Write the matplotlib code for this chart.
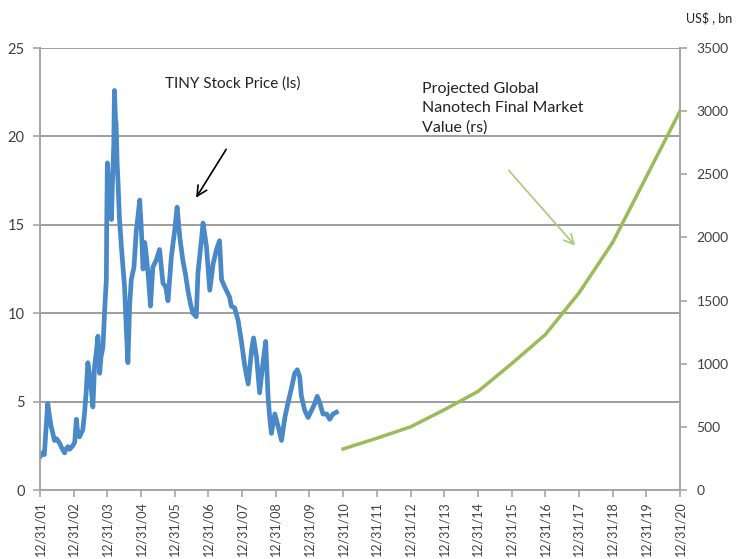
import matplotlib
matplotlib.use("Agg")
import matplotlib.pyplot as plt

# ---- data ----
stock_t = [2002.01, 2002.07, 2002.13, 2002.18, 2002.23, 2002.28, 2002.33, 2002.37, 2002.43, 2002.49,
           2002.58, 2002.64, 2002.73, 2002.77, 2002.83, 2002.88, 2002.97, 2003.03, 2003.08, 2003.11,
           2003.17, 2003.27, 2003.32, 2003.37, 2003.42, 2003.50, 2003.57, 2003.62, 2003.66, 2003.72,
           2003.77, 2003.81, 2003.87, 2003.92, 2003.97, 2003.98, 2004.00, 2004.04, 2004.07, 2004.12,
           2004.16, 2004.19, 2004.21, 2004.24, 2004.26, 2004.29, 2004.31, 2004.36, 2004.43, 2004.51,
           2004.56, 2004.61, 2004.66, 2004.71, 2004.79, 2004.86, 2004.91, 2004.96, 2005.01, 2005.06,
           2005.11, 2005.16, 2005.22, 2005.28, 2005.35, 2005.45, 2005.55, 2005.65, 2005.73, 2005.80,
           2005.90, 2006.00, 2006.07, 2006.15, 2006.24, 2006.32, 2006.39, 2006.47, 2006.54, 2006.64,
           2006.69, 2006.79, 2006.84, 2006.94, 2007.04, 2007.14, 2007.24, 2007.33, 2007.39, 2007.48,
           2007.58, 2007.63, 2007.68, 2007.78, 2007.88, 2007.98, 2008.08, 2008.18, 2008.28, 2008.34,
           2008.43, 2008.52, 2008.62, 2008.70, 2008.77, 2008.82, 2008.87, 2008.97, 2009.07, 2009.17,
           2009.27, 2009.36, 2009.47, 2009.56, 2009.64, 2009.71, 2009.76, 2009.86, 2009.96, 2010.06,
           2010.16, 2010.23, 2010.31, 2010.40, 2010.51, 2010.60, 2010.70, 2010.80]
stock_price = [1.9, 2.1, 2.0, 3.5, 4.9, 4.2, 3.6, 3.3, 2.8, 2.9,
               2.65, 2.4, 2.1, 2.3, 2.45, 2.3, 2.5, 2.7, 4.0, 3.4,
               3.0, 3.4, 4.3, 5.5, 7.2, 6.2, 4.7, 7.0, 7.6, 8.7,
               6.6, 7.5, 8.1, 10.2, 11.9, 15.0, 18.5, 17.2, 17.7, 15.3,
               17.9, 19.5, 22.6, 21.0, 20.7, 18.5, 17.7, 15.3, 13.4, 11.5,
               9.2, 7.2, 10.4, 11.9, 12.6, 14.7, 15.5, 16.4, 14.7, 12.5,
               14.0, 13.2, 12.0, 10.4, 12.6, 13.0, 13.6, 11.7, 11.5, 10.7,
               13.2, 14.7, 16.0, 14.3, 13.0, 12.2, 11.3, 10.5, 10.0, 9.8,
               12.3, 14.1, 15.1, 13.8, 11.3, 12.8, 13.6, 14.1, 11.9, 11.5,
               11.1, 10.9, 10.4, 10.3, 9.6, 8.4, 7.0, 6.0, 7.9, 8.6,
               7.5, 5.5, 7.2, 8.4, 5.3, 4.1, 3.2, 4.3, 3.6, 2.8,
               4.1, 4.9, 5.8, 6.6, 6.8, 6.4, 5.3, 4.5, 4.1, 4.5,
               4.9, 5.3, 4.9, 4.3, 4.3, 4.0, 4.3, 4.4]

market_t = [2011, 2012, 2013, 2014, 2015, 2016, 2017, 2018, 2019, 2020, 2021]
market_value = [325, 410, 500, 635, 780, 1000, 1230, 1560, 1960, 2480, 3000]

tick_pos = list(range(2002, 2022))
tick_labels = ["12/31/%02d" % (y - 2001) for y in tick_pos]

# ---- style ----
plt.rcParams['font.family'] = ['Lato', 'DejaVu Sans']
blue = '#4A89C8'
green = '#9BBB59'
grid_c = '#8C8C8C'
txt_c = '#404040'

fig = plt.figure(figsize=(7.36, 5.59), dpi=100)
ax = fig.add_axes([40/736, 1-490/559, 640/736, 442/559])
ax2 = ax.twinx()

ax.plot(stock_t, stock_price, color=blue, lw=3.4, solid_joinstyle='round', zorder=3)
ax2.plot(market_t, market_value, color=green, lw=2.5, zorder=3)

ax.set_xlim(2002, 2021)
ax.set_ylim(0, 25)
ax2.set_ylim(0, 3500)
ax.set_yticks([0, 5, 10, 15, 20, 25])
ax2.set_yticks(range(0, 3501, 500))
ax.set_xticks(tick_pos)
ax.set_xticklabels(tick_labels, rotation=90, fontsize=9, color=txt_c)
ax.yaxis.grid(True, color=grid_c, lw=1.2)
ax.set_axisbelow(True)

for a in (ax, ax2):
    for s in a.spines.values():
        s.set_color('#A6A6A6')
        s.set_linewidth(1.2)
    a.spines['top'].set_visible(False)
    a.tick_params(colors='#A6A6A6', labelcolor=txt_c, labelsize=10.5, length=5, width=1.2)
ax.tick_params(axis='x', labelsize=9, pad=3)
ax.tick_params(axis='y', pad=6)
ax2.tick_params(axis='y', pad=7, labelsize=10)

ax.text(2005.70, 23.0, "TINY Stock Price (ls)", fontsize=11, color='#222222', va='center', ha='left')
ax.text(2013.34, 23.1, "Projected Global\nNanotech Final Market\nValue (rs)", fontsize=11.5,
        color='#222222', va='top', ha='left', linespacing=1.5)

ax.annotate("", xy=(2006.59, 16.4), xytext=(2007.57, 19.4),
            arrowprops=dict(arrowstyle='->', color='black', lw=1.2, mutation_scale=18))
ax.annotate("", xy=(2017.94, 13.7), xytext=(2015.86, 18.2),
            arrowprops=dict(arrowstyle='->', color='#A9CB77', lw=1.2, mutation_scale=18))

fig.text(686/736, 1-18/559, "US$ , bn", fontsize=9, color='#222222', va='center', ha='left')

fig.savefig("out.png", dpi=100)
